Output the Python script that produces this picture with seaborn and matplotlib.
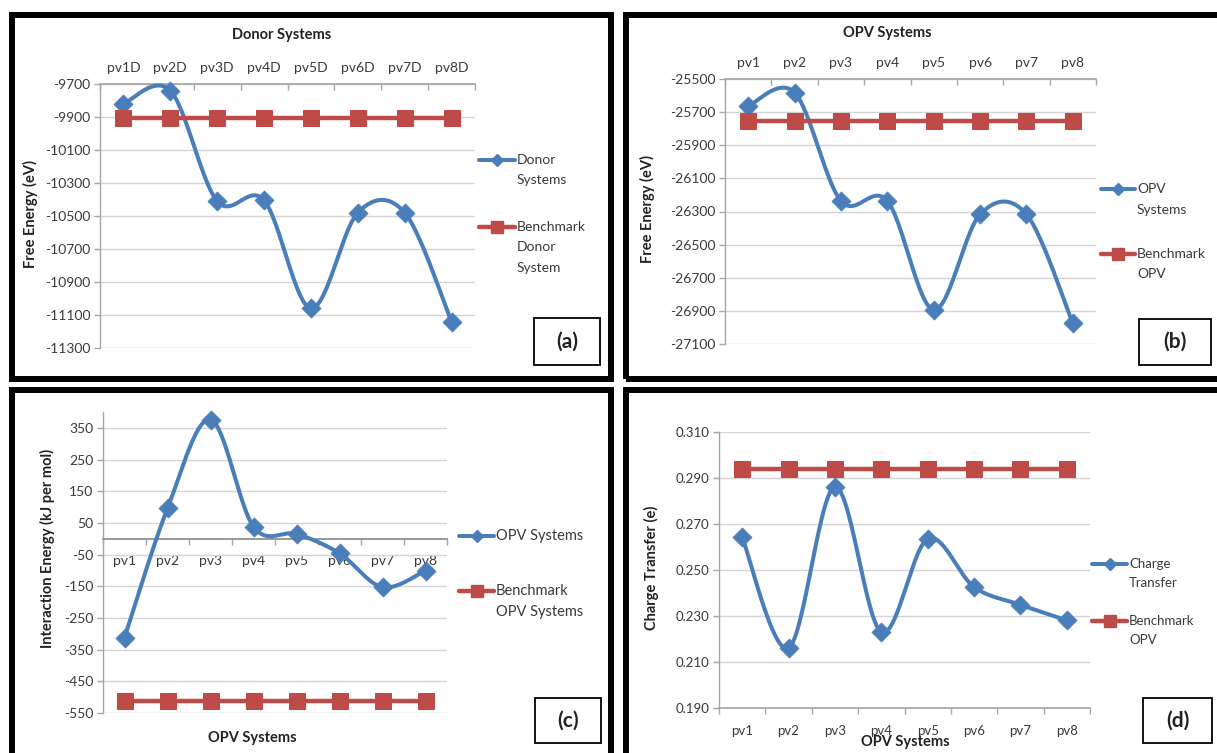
import numpy as np
import matplotlib
matplotlib.use("Agg")
import matplotlib.pyplot as plt
import seaborn as sns
from matplotlib.lines import Line2D
from matplotlib.patches import Rectangle

# ---------------- data ----------------
donor_labels = ["pv1D", "pv2D", "pv3D", "pv4D", "pv5D", "pv6D", "pv7D", "pv8D"]
opv_labels = ["pv1", "pv2", "pv3", "pv4", "pv5", "pv6", "pv7", "pv8"]

donor_energy = [-9820, -9740, -10410, -10405, -11060, -10480, -10480, -11140]
donor_benchmark = [-9905] * 8

opv_energy = [-25663, -25582, -26236, -26236, -26894, -26317, -26317, -26975]
opv_benchmark = [-25751] * 8

interaction_energy = [-312, 96, 376, 38, 15, -46, -153, -101]
interaction_benchmark = [-513] * 8

charge_transfer = [0.2642, 0.2161, 0.2861, 0.2230, 0.2635, 0.2426, 0.2349, 0.2281]
charge_benchmark = [0.2939] * 8

# ---------------- style ----------------
sns.set_theme(style="white")
plt.rcParams["font.family"] = ["Lato", "DejaVu Sans"]

BLUE = "#4A7EBB"
RED = "#BE4B48"
GRID = "#d4d4d4"
AXC = "#a6a6a6"
TXT = "#3a3a3a"

W, H = 1217, 753
fig = plt.figure(figsize=(W / 100, H / 100), dpi=100)
fig.patch.set_facecolor("white")


def px_rect(x0, y0, x1, y1):
    return [x0 / W, 1 - y1 / H, (x1 - x0) / W, (y1 - y0) / H]


def fx(x):
    return x / W


def fy(y):
    return 1 - y / H


def smooth(xs, ys, n=30):
    xs = np.asarray(xs, float)
    ys = np.asarray(ys, float)
    pts = np.column_stack([xs, ys])
    out = []
    m = len(pts)
    t = np.linspace(0, 1, n)[:, None]
    for i in range(m - 1):
        p0 = pts[i]
        p3 = pts[i + 1]
        pm = pts[i - 1] if i > 0 else pts[i]
        pn = pts[i + 2] if i + 2 < m else pts[i + 1]
        c1 = p0 + (p3 - pm) / 6.0
        c2 = p3 - (pn - p0) / 6.0
        seg = ((1 - t) ** 3) * p0 + 3 * ((1 - t) ** 2) * t * c1 + 3 * (1 - t) * t ** 2 * c2 + t ** 3 * p3
        out.append(seg if i == 0 else seg[1:])
    arr = np.vstack(out)
    return arr[:, 0], arr[:, 1]


def draw_series(ax, values, bench):
    x = np.arange(len(values))
    sx, sy = smooth(x, values)
    ax.plot(sx, sy, color=BLUE, lw=2.9, zorder=3, clip_on=False, solid_capstyle="round")
    sns.scatterplot(x=x, y=values, marker="D", s=95, color=BLUE, edgecolor=BLUE,
                    linewidth=0.5, ax=ax, zorder=4, clip_on=False, legend=False)
    sns.lineplot(x=x, y=bench, color=RED, lw=3.2, marker="s", markersize=11,
                 markeredgecolor=RED, markerfacecolor=RED, ax=ax, zorder=5, legend=False)


def style_axes(ax, labels, ylim, yticks, fmt, fs, top=False, zero_axis=False, pad=9):
    ax.set_xlim(-0.5, len(labels) - 0.5)
    ax.set_ylim(*ylim)
    ax.set_yticks(yticks)
    ax.set_yticklabels([fmt.format(v) for v in yticks])
    ax.set_xticks(np.arange(len(labels)))
    ax.set_xticklabels(labels)
    ax.set_xticks(np.arange(len(labels) + 1) - 0.5, minor=True)
    ax.set_xlabel("")
    ax.set_ylabel("")
    ax.set_facecolor("none")
    ax.yaxis.grid(True, color=GRID, lw=1.0)
    ax.xaxis.grid(False)
    ax.set_axisbelow(True)
    for s in ["right", "top", "bottom", "left"]:
        ax.spines[s].set_visible(False)
    ax.spines["left"].set_visible(True)
    ax.spines["left"].set_color(AXC)
    ax.spines["left"].set_linewidth(1.0)
    ax.tick_params(axis="y", which="major", length=4, width=1, color=AXC, pad=3,
                   labelsize=fs, labelcolor=TXT, left=True)
    if top:
        ax.xaxis.tick_top()
        ax.spines["top"].set_visible(True)
        ax.spines["top"].set_color(AXC)
        ax.tick_params(axis="x", which="major", length=0, pad=pad, labelsize=fs, labelcolor=TXT)
        ax.tick_params(axis="x", which="minor", length=4, width=1, color=AXC, direction="in", top=True)
    else:
        ax.spines["bottom"].set_visible(True)
        ax.spines["bottom"].set_color("#8c8c8c" if zero_axis else AXC)
        if zero_axis:
            ax.spines["bottom"].set_position(("data", 0))
        ax.tick_params(axis="x", which="major", length=0, pad=pad, labelsize=fs, labelcolor=TXT, bottom=True)
        ax.tick_params(axis="x", which="minor", length=4, width=1, color=AXC, direction="out", bottom=True)


def legend_entry(x0, x1, y, color, marker, ms, lw, lines, tx, fs, dy):
    ln = Line2D([fx(x0), fx((x0 + x1) / 2), fx(x1)], [fy(y)] * 3, transform=fig.transFigure,
                color=color, lw=lw, marker=marker, markersize=ms, markevery=[1],
                markerfacecolor=color, markeredgecolor=color)
    fig.add_artist(ln)
    for k, t in enumerate(lines):
        fig.text(fx(tx), fy(y + k * dy), t, fontsize=fs, color=TXT, ha="left", va="center")


def label_box(x0, y0, x1, y1, txt):
    fig.add_artist(Rectangle((fx(x0), fy(y1)), fx(x1) - fx(x0), fy(y0) - fy(y1),
                             transform=fig.transFigure, fill=True, fc="white", ec="black", lw=1.3))
    fig.text(fx((x0 + x1) / 2), fy((y0 + y1) / 2), txt, fontsize=15, fontweight="bold",
             color="#222222", ha="center", va="center")


# panel borders
for (x0, y0, x1, y1) in [(12, 14.5, 611.5, 378.5), (626, 14.5, 1224, 378.5),
                         (12, 390, 611.5, 762), (626, 390, 1224, 762)]:
    fig.add_artist(Rectangle((fx(x0), fy(y1)), fx(x1) - fx(x0), fy(y0) - fy(y1),
                             transform=fig.transFigure, fill=False, ec="black", lw=4.3))

# ---------------- (a) ----------------
ax_a = fig.add_axes(px_rect(100, 84, 475, 348))
draw_series(ax_a, donor_energy, donor_benchmark)
style_axes(ax_a, donor_labels, (-11300, -9700), list(range(-11300, -9699, 200)), "{:d}", 10,
           top=True, pad=7)
fig.text(fx(282), fy(35), "Donor Systems", fontsize=10.5, fontweight="bold", color="#222222",
         ha="center", va="center")
fig.text(fx(30), fy(214), "Free Energy (eV)", fontsize=10.5, fontweight="bold", color="#222222",
         ha="center", va="center", rotation=90)
legend_entry(479, 515, 160, BLUE, "D", 6, 2.9, ["Donor", "Systems"], 517, 10, 20.5)
legend_entry(479, 515, 227, RED, "s", 8, 3.2, ["Benchmark", "Donor", "System"], 517, 10, 20.5)
label_box(534, 318, 600, 365, "(a)")

# ---------------- (b) ----------------
ax_b = fig.add_axes(px_rect(725, 79, 1096, 344))
draw_series(ax_b, opv_energy, opv_benchmark)
style_axes(ax_b, opv_labels, (-27100, -25500), list(range(-27100, -25499, 200)), "{:d}", 10,
           top=True, pad=7)
fig.text(fx(887), fy(33), "OPV Systems", fontsize=10.5, fontweight="bold", color="#222222",
         ha="center", va="center")
fig.text(fx(647), fy(209), "Free Energy (eV)", fontsize=10.5, fontweight="bold", color="#222222",
         ha="center", va="center", rotation=90)
legend_entry(1101, 1135, 189, BLUE, "D", 6, 2.9, ["OPV", "Systems"], 1137, 10, 20.5)
legend_entry(1101, 1135, 254, RED, "s", 8, 3.2, ["Benchmark", "OPV"], 1137, 10, 20.5)
label_box(1139, 319, 1211, 365, "(b)")

# ---------------- (c) ----------------
ax_c = fig.add_axes(px_rect(103, 412, 447, 713))
draw_series(ax_c, interaction_energy, interaction_benchmark)
style_axes(ax_c, opv_labels, (-550, 400), list(range(-550, 351, 100)), "{:d}", 10,
           zero_axis=True, pad=12)
fig.text(fx(252), fy(738), "OPV Systems", fontsize=10.5, fontweight="bold", color="#222222",
         ha="center", va="center")
fig.text(fx(47), fy(548), "Interaction Energy (kJ per mol)", fontsize=10.5, fontweight="bold",
         color="#222222", ha="center", va="center", rotation=90)
legend_entry(459, 494, 536, BLUE, "D", 6, 2.9, ["OPV Systems"], 496, 10.5, 21)
legend_entry(459, 494, 591, RED, "s", 8, 3.2, ["Benchmark", "OPV Systems"], 496, 10.5, 21)
label_box(535, 698, 601, 743, "(c)")

# ---------------- (d) ----------------
ax_d = fig.add_axes(px_rect(719, 432, 1090, 708))
draw_series(ax_d, charge_transfer, charge_benchmark)
style_axes(ax_d, opv_labels, (0.19, 0.31), [0.19, 0.21, 0.23, 0.25, 0.27, 0.29, 0.31], "{:.3f}", 9.5,
           pad=12)
fig.text(fx(905), fy(742), "OPV Systems", fontsize=10.5, fontweight="bold", color="#222222",
         ha="center", va="center")
fig.text(fx(651), fy(568), "Charge Transfer (e)", fontsize=10.5, fontweight="bold", color="#222222",
         ha="center", va="center", rotation=90)
legend_entry(1092, 1127, 564, BLUE, "D", 6, 2.9, ["Charge", "Transfer"], 1129, 9.5, 19)
legend_entry(1092, 1127, 621, RED, "s", 8, 3.2, ["Benchmark", "OPV"], 1129, 9.5, 19)
label_box(1143, 698, 1212, 743, "(d)")

fig.savefig("out.png", dpi=100, facecolor="white")
